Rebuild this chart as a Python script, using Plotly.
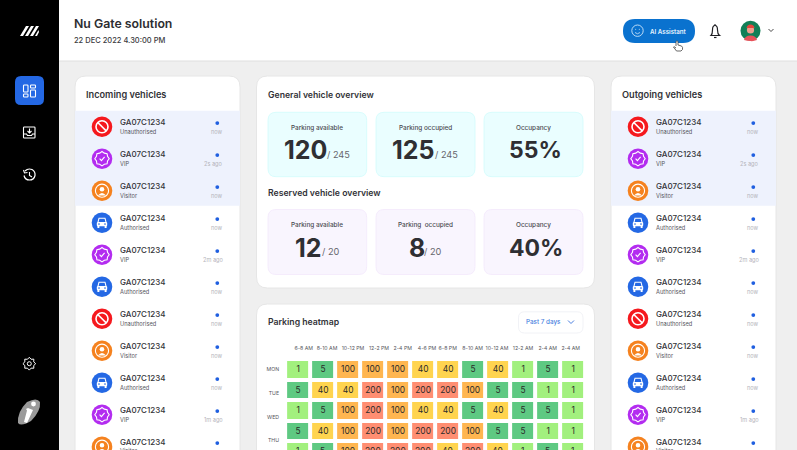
import math
import plotly.graph_objects as go

W, H = 797, 450
FONT = "Inter"
DARK = "#333338"
CLEAR = "rgba(0,0,0,0)"

# data
plate = "GA07C1234"
vehicle_types = ["Unauthorised", "VIP", "Visitor", "Authorised", "VIP", "Authorised",
                 "Unauthorised", "Visitor", "Authorised", "VIP", "Visitor"]
vehicle_times = ["now", "2s ago", "now", "now", "2m ago", "now", "now", "now", "now", "1m ago", "now"]

hour_labels = ["6-8 AM", "8-10 AM", "10-12 PM", "12-2 PM", "2-4 PM", "4-6 PM",
               "6-8 PM", "8-10 AM", "10-12 AM", "12-2 AM", "2-4 AM", "2-4 AM"]
day_labels = ["MON", "TUE", "WED", "THU"]
heat_mon = [1, 5, 100, 100, 100, 40, 40, 5, 40, 1, 5, 1]
heat_tue = [5, 40, 40, 200, 100, 200, 200, 100, 5, 5, 1, 1]
heat_wed = [1, 5, 100, 200, 100, 40, 40, 5, 40, 5, 5, 1]
heat_thu = [5, 40, 100, 200, 100, 200, 200, 100, 5, 5, 1, 1]
heat_fri = [1, 5, 100, 200, 200, 200, 40, 200, 40, 1, 5, 1]

# heatmap colours, one band per value
heat_colors = [[0, "#a2f07e"], [0.015, "#a2f07e"], [0.015, "#5ec982"], [0.1, "#5ec982"],
               [0.1, "#ffd44f"], [0.35, "#ffd44f"], [0.35, "#ffb650"], [0.75, "#ffb650"],
               [0.75, "#ff8e72"], [1, "#ff8e72"]]

shapes = []
notes = []


def rr(x0, y0, x1, y1, r):
    return (f"M{x0+r},{y0} L{x1-r},{y0} Q{x1},{y0} {x1},{y0+r} L{x1},{y1-r} Q{x1},{y1} {x1-r},{y1} "
            f"L{x0+r},{y1} Q{x0},{y1} {x0},{y1-r} L{x0},{y0+r} Q{x0},{y0} {x0+r},{y0} Z")


def path(d, fill=CLEAR, line=None, width=1.0):
    shapes.append(dict(type="path", path=d, xref="x", yref="y", layer="below", fillcolor=fill,
                       line=dict(color=line or CLEAR, width=width if line else 0)))


def box(x0, y0, x1, y1, r, fill=CLEAR, line=None, width=1.0):
    path(rr(x0, y0, x1, y1, r), fill, line, width)


def circle(cx, cy, r, fill=CLEAR, line=None, width=1.0):
    shapes.append(dict(type="circle", xref="x", yref="y", layer="below", x0=cx-r, x1=cx+r, y0=cy-r, y1=cy+r,
                       fillcolor=fill, line=dict(color=line or CLEAR, width=width if line else 0)))


def text(x, y, s, size, color=DARK, anchor="left", weight=400):
    # annotations sit about 1px right of their anchor
    if anchor == "left":
        x -= 1
    notes.append(dict(x=x/W, y=1-y/H, xref="paper", yref="paper", text=s, showarrow=False, xanchor=anchor,
                      yanchor="middle", borderpad=0, font=dict(family=FONT, size=size, color=color, weight=weight)))


def gear(cx, cy, r_out, r_in, n):
    pts = []
    for i in range(n * 2):
        a = math.pi * i / n
        rad = r_out if i % 2 == 0 else r_in
        pts.append(f"{cx+rad*math.cos(a):.2f},{cy+rad*math.sin(a):.2f}")
    return "M" + " L".join(pts) + " Z"


def vehicle_icon(kind, cx, cy):
    if kind == "Unauthorised":
        circle(cx, cy, 10.3, "#f5191e")
        circle(cx, cy, 6, line="white", width=1.6)
        path(f"M{cx-4.2},{cy-4.2} L{cx+4.2},{cy+4.2}", line="white", width=1.6)
    elif kind == "VIP":
        circle(cx, cy, 10.3, "#b32cf0")
        path(gear(cx, cy, 7.2, 6, 8), line="white", width=1.1)
        path(f"M{cx-2.4},{cy} L{cx-0.6},{cy+1.9} L{cx+2.6},{cy-1.9}", line="white", width=1.1)
    elif kind == "Visitor":
        circle(cx, cy, 10.3, "#f5821f")
        circle(cx, cy, 6.6, line="white", width=1.1)
        circle(cx, cy-1.5, 2.3, "white")
        path(f"M{cx-4},{cy+4.8} Q{cx},{cy-0.2} {cx+4},{cy+4.8} Z", "white")
    else:
        circle(cx, cy, 10.3, "#2468e4")
        path(f"M{cx-4},{cy-0.5} L{cx-3},{cy-4.5} L{cx+3},{cy-4.5} L{cx+4},{cy-0.5}", line="white", width=1.1)
        box(cx-5.2, cy-0.6, cx+5.2, cy+3.6, 1, "white")
        box(cx-4.6, cy+3.4, cx-2.6, cy+5.2, 0.5, "white")
        box(cx+2.6, cy+3.4, cx+4.6, cy+5.2, 0.5, "white")
        circle(cx-3, cy+1.4, 0.8, "#2468e4")
        circle(cx+3, cy+1.4, 0.8, "#2468e4")


def vehicle_card(x0, x1, title):
    box(x0, 76, x1, 480, 11, "white", "#e6e6e6", 1)
    text(x0+11, 94, title, 9.2, weight=600)
    path(f"M{x0},110.7 L{x1},110.7 L{x1},205.7 L{x0},205.7 Z", "#eef2fd")
    for i, (kind, when) in enumerate(zip(vehicle_types, vehicle_times)):
        y = 126.7 + 32 * i
        vehicle_icon(kind, x0+27, y)
        text(x0+45, y-4.5, plate, 8, weight=500)
        text(x0+45, y+4.3, kind, 5.7, "#55555c")
        circle(x0+142.3, y-3.6, 1.9, "#1f5fe0")
        text(x0+148.5, y+5, when, 5.6, "#b4b4ba", anchor="right")


def stat_card(x0, y0, x1, y1, fill, edge, label, big, big_x, small=None, small_x=None):
    box(x0, y0, x1, y1, 8, fill, edge, 0.8)
    cx = (x0 + x1) / 2
    text(cx, y0+15.5, label, 6.4, "#4a4a50", anchor="center", weight=500)
    if small:
        text(big_x, y0+38, big, 25, "#2f2f33", weight=700)
        text(small_x, y0+42, small, 9.2, "#66666c")
    else:
        text(cx+2, y0+38, big, 23, "#2f2f33", anchor="center", weight=700)


# page, header, sidebar
path(f"M0,0 L{W},0 L{W},{H} L0,{H} Z", "#efefef")
path(f"M59,0 L{W},0 L{W},61 L59,61 Z", "white")
path(f"M59,61 L{W},61", line="#dfdfdf", width=1)
path(f"M0,0 L59,0 L59,{H} L0,{H} Z", "black")

# sidebar logo stripes
for off in [0, 5, 10]:
    path(f"M{20+off},36 L{26+off},26 L{29+off},26 L{23+off},36 Z", "white")
path("M35,36 L38.5,30 L39,32 L37,36 Z", "white")

box(15, 76, 44, 105, 6, "#2468e4")
box(23.5, 85, 28, 92, 0.8, line="white", width=1.1)
box(23.5, 94, 28, 97, 0.8, line="white", width=1.1)
box(30.5, 85, 35.5, 88, 0.8, line="white", width=1.1)
box(30.5, 90, 35.5, 97, 0.8, line="white", width=1.1)

# download tray
box(23.5, 127, 35, 138, 0.8, line="white", width=1.1)
path("M23.5,134 L26.5,134 L27.5,135.5 L31.5,135.5 L32.5,134 L35,134 M29.5,128.5 L29.5,133 M27.5,131 L29.5,133 L31.5,131", line="white", width=1.1)

# history
path("M25,171 Q28,168 32,169.5 Q35.5,171.5 35,175.5 Q34,180 29.5,180 Q25,180 24,175.5", line="white", width=1.2)
path("M23.5,170 L24.5,173 L27.5,172.5 M29.5,172 L29.5,175.5 L32,177", line="white", width=1.1)

# settings
path(gear(29.3, 363.7, 6.4, 4.8, 8), line="white", width=1)
circle(29.3, 363.7, 2, line="white", width=1)

# bottom logo
path("M18,423 Q17,412 27,402 Q37,397 40,402 Q41,411 31,421 Q21,427 18,423 Z", "#9a9a9a")
path("M27,423 L33,410 L28,408 L26,409 L27,410.5 L24,422 Z", "white")
circle(33.5, 404, 2.4, "white")

text(74, 23.5, "Nu Gate solution", 12.3, "#2d2d31", weight=600)
text(74, 40.5, "22 DEC 2022 4.30:00 PM", 7.5, "#3a3a40", weight=500)

# ai assistant button
box(623, 19, 695, 43, 12, "#0a72cf")
circle(637.5, 30.7, 5.7, line="#cfe6fa", width=0.9)
path("M635,32.5 Q637.5,35 640,32.5", line="#cfe6fa", width=0.8)
circle(635.7, 29.3, 0.5, "#cfe6fa")
circle(639.3, 29.3, 0.5, "#cfe6fa")
text(650, 31, "AI Assistant", 6.2, "#e8f3fd", weight=600)

# hand cursor
path("M676,46 L676,41.5 Q677,40 678,41.5 L678,45 L681.5,46 Q683,47 682.5,49.5 L681,51 L676.5,51 L673.5,47 Q674,46 676,48",
     "white", "#444444", 0.8)

# bell
path("M711,35.5 Q712.5,34 712.5,30 Q712.5,25.5 715,25.5 Q717.5,25.5 717.5,30 Q717.5,34 719.5,35.5 Z", line="#1e1e22", width=1.2)
path("M714,37.5 L716.5,37.5", line="#1e1e22", width=1.2)
path("M715,24 L715,25.5", line="#1e1e22", width=1.1)

# avatar
circle(750.5, 30.7, 10, "#127f57")
path("M744,40 Q745,35.5 750.5,35.5 Q756,35.5 757,40 Q753,41.5 750.5,41 Q747,41 744,40 Z", "#e8525a")
circle(750.5, 30, 3.6, "#eea08f")
path("M746.5,28 Q747,24.5 750.5,24.5 Q754,24.5 754.5,28 Z", "#e8453c")
path("M768.5,29 L771,31.5 L773.5,29", line="#333333", width=0.9)

# cards
vehicle_card(75, 240, "Incoming vehicles")
vehicle_card(611, 776, "Outgoing vehicles")

box(256.5, 76, 594.5, 288, 11, "white", "#e6e6e6", 1)
text(268, 95, "General vehicle overview", 8.7, weight=600)
text(268, 192.5, "Reserved vehicle overview", 8.7, weight=600)

CYAN, CYAN_EDGE = "#eafeff", "#d2fbfb"
LILAC, LILAC_EDGE = "#f9f5fe", "#f2e9fb"
stat_card(268, 112.3, 366.7, 176.7, CYAN, CYAN_EDGE, "Parking available", "120", 284, "/ 245", 327)
stat_card(376, 112.3, 475, 176.7, CYAN, CYAN_EDGE, "Parking occupied", "125", 392, "/ 245", 435)
stat_card(484, 112.3, 583, 176.7, CYAN, CYAN_EDGE, "Occupancy", "55%", 0)
stat_card(268, 209.5, 366.7, 274.5, LILAC, LILAC_EDGE, "Parking available", "12", 295, "/ 20", 321.5)
stat_card(376, 209.5, 475, 274.5, LILAC, LILAC_EDGE, "Parking  occupied", "8", 409, "/ 20", 424)
stat_card(484, 209.5, 583, 274.5, LILAC, LILAC_EDGE, "Occupancy", "40%", 0)

box(256.5, 304, 594.5, 480, 11, "white", "#e6e6e6", 1)
text(268, 322, "Parking heatmap", 8.7, weight=600)
box(518.5, 311.8, 583, 333, 6, "white", "#eeeff4", 0.8)
text(525.5, 322, "Past 7 days", 6.3, "#4a7fe0", weight=500)
path("M568,320.5 L571,323.5 L574,320.5", line="#4a7fe0", width=1)

# heatmap placement in page pixels
HX0, HX1 = 285.1, 585.5
HY0 = 359.0
ROW = 20.5
COL = (HX1 - HX0) / 12
# the labels drift off the cells in the source, so ticks get their own positions
hour_tick_px = [303.7, 327, 353, 379, 402.7, 427, 447.7, 472.7, 497, 523, 547.7, 570.7]
day_tick_px = [369, 393, 416.7, 440]

# last row centre is past the axis range so heatmap text skips it
for i, v in enumerate(heat_fri):
    text(HX0 + COL * (i + 0.5), HY0 + ROW * 4.5, str(v), 8.4, "#2b2b2b", anchor="center")

fig = go.Figure(go.Heatmap(
    z=[heat_mon, heat_tue, heat_wed, heat_thu, heat_fri],
    x=list(range(12)),
    y=list(range(5)),
    xaxis="x2",
    yaxis="y2",
    zmin=0,
    zmax=200,
    colorscale=heat_colors,
    showscale=False,
    xgap=4,
    ygap=4,
    texttemplate="%{z}",
    textfont=dict(family=FONT, size=8.4, color="#2b2b2b"),
    hoverinfo="skip",
))

fig.update_layout(
    width=W,
    height=H,
    margin=dict(l=0, r=0, t=0, b=0),
    paper_bgcolor="#efefef",
    plot_bgcolor="rgba(0,0,0,0)",
    showlegend=False,
    shapes=shapes,
    annotations=notes,
    font=dict(family=FONT),
    xaxis=dict(range=[0, W], domain=[0, 1], visible=False, type="linear", fixedrange=True),
    yaxis=dict(range=[H, 0], domain=[0, 1], visible=False, type="linear", fixedrange=True),
    xaxis2=dict(
        domain=[HX0/W, HX1/W],
        range=[-0.5, 11.5],
        anchor="y2",
        side="top",
        tickmode="array",
        tickvals=[(p - HX0) / COL - 0.5 for p in hour_tick_px],
        ticktext=hour_labels,
        ticks="",
        ticklabelstandoff=7,
        showgrid=False,
        zeroline=False,
        showline=False,
        tickangle=0,
        tickfont=dict(family=FONT, size=5.2, color="#55555c"),
    ),
    yaxis2=dict(
        domain=[0, (H - HY0) / H],
        range=[(H - HY0) / ROW - 0.5, -0.5],
        anchor="x2",
        tickmode="array",
        tickvals=[(p - HY0) / ROW - 0.5 for p in day_tick_px],
        ticktext=day_labels,
        ticks="",
        ticklabelstandoff=5,
        showgrid=False,
        zeroline=False,
        showline=False,
        tickfont=dict(family=FONT, size=5.2, color="#55555c"),
    ),
)

# browser default body margin would push the page off by 8px
fig.write_html("out.html", config={"displayModeBar": False},
               post_script="document.body.style.margin='0';document.body.style.overflow='hidden';")
